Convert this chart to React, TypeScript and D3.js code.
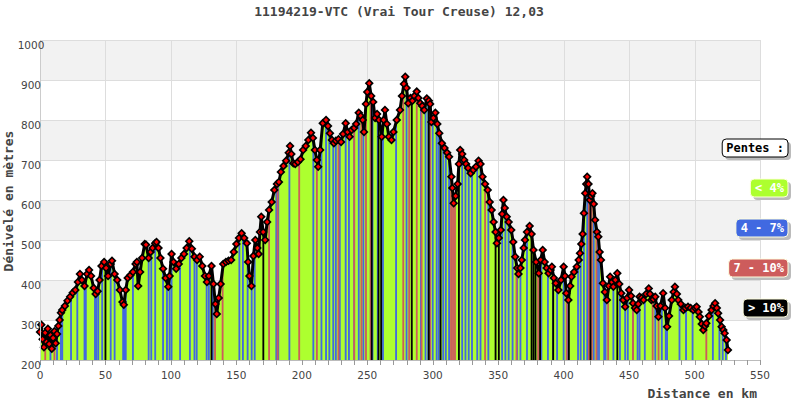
import { useRef, useEffect } from "react"
import * as d3 from "d3"

const WIDTH = 800
const HEIGHT = 400
const MARGIN = { top: 40, right: 40, bottom: 40, left: 40 }

const TITLE = "11194219-VTC (Vrai Tour Creuse) 12,03"
const Y_TITLE = "Dénivelé en mètres"
const X_TITLE = "Distance en km"

// profile (km, metres)
const DIST_KM = [
  0, 1, 2, 3, 4, 5, 6, 7, 8, 9, 10, 11, 12, 13, 14, 15, 16, 17, 19, 21,
  23, 25, 27, 29, 30.5, 32, 34, 36, 37.5, 39, 41, 42.5, 44, 45.5, 47, 49, 50.5, 52, 54, 55,
  57, 59, 61, 63, 64, 65.5, 67, 69, 71, 73, 74, 75, 76.5, 78, 80, 81, 83, 84.5, 86, 88,
  89, 90.5, 92, 94, 96, 98, 99, 100.5, 102, 104, 106, 108, 110, 112, 114, 116, 118, 120, 122, 124,
  126, 127.5, 129, 131, 132.5, 134, 135, 136.5, 138, 140, 142, 144, 146, 148, 150, 152, 154, 156, 158, 159,
  160, 161.5, 163, 164.5, 166, 167, 168, 169, 170.5, 172, 173.5, 175, 177, 179, 181, 182.5, 184, 186, 188, 190,
  191, 192, 193.5, 195, 197, 199, 201, 203, 205, 207, 208.5, 210, 211.5, 212.5, 214, 216, 218.5, 220, 221.5, 223,
  224.5, 226, 228, 230, 231.5, 233.5, 235, 236.5, 238, 240, 241.5, 243.5, 245, 246.5, 247.5, 249, 250, 251.5, 253, 254.5,
  256, 257.5, 259, 261, 262.5, 263.5, 265, 266.5, 268.5, 270, 272.5, 275, 276.5, 278, 279, 280, 281.3, 283, 284.5, 286,
  287.8, 289, 290.5, 292, 293.5, 295.5, 297, 298, 299, 300.5, 302, 303.5, 305, 307, 309, 311, 312.5, 314.3, 315, 316,
  317.5, 319, 320, 321, 322.5, 324, 325.5, 327, 329, 331, 333, 335, 336.5, 338, 340, 342, 343.5, 345, 346.5, 348,
  349, 350.5, 352, 353, 354, 355, 356.5, 358, 360, 361.5, 363, 364.5, 365.5, 367, 368, 369.5, 370.5, 372, 374, 375.5,
  377, 379, 381, 382.5, 384, 385.5, 387, 388.5, 390, 391, 392.5, 394, 396, 398, 400, 401, 402, 403.6, 405, 406,
  408, 410, 411.5, 412.5, 413.5, 414.5, 415.5, 416.5, 417.3, 418, 419, 420, 421, 422, 423, 424, 425.5, 426.5, 427.5, 428.5,
  430, 431.5, 433, 434.5, 435.5, 437, 438, 439.5, 441, 442.5, 444, 445.5, 447, 448.5, 450, 451.5, 453, 454.5, 455.8, 457,
  458, 459.5, 461, 463, 465, 466, 467, 468.5, 470, 471, 472.4, 474, 476, 477.5, 479, 480.5, 482.6, 484, 485, 486.5,
  487.6, 489.5, 491.5, 493, 495, 497, 499, 500.5, 501.6, 503, 504, 505.5, 506.7, 508, 509, 511, 513, 514.5, 515.7, 517,
  518, 519.5, 520.7, 522, 523, 524.5, 525.5,
]

const ELEV_M = [
  270, 288, 252, 232, 268, 245, 278, 240, 262, 228, 255, 272, 242, 265, 285, 300, 318, 325, 335, 348,
  358, 368, 375, 395, 415, 400, 385, 415, 425, 410, 380, 365, 372, 400, 435, 445, 430, 410, 440, 448,
  415, 400, 375, 345, 338, 375, 405, 412, 420, 440, 445, 385, 420, 455, 490, 488, 455, 470, 480, 492,
  495, 480, 455, 428, 405, 383, 410, 465, 445, 428, 440, 455, 465, 480, 497, 478, 458, 450, 458, 435,
  410, 395, 410, 435, 390, 340, 315, 355, 390, 440, 445, 448, 450, 470, 490, 505, 517, 505, 492, 445,
  410, 385, 460, 500, 480, 465, 520, 558, 520, 500, 545, 575, 595, 625, 640, 645, 670, 685, 698, 718,
  735, 715, 692, 690, 695, 702, 725, 735, 750, 768, 755, 725, 700, 683, 725, 792, 800, 785, 767, 750,
  742, 748, 752, 745, 765, 792, 770, 758, 775, 780, 790, 818, 810, 800, 770, 840, 870, 892, 860, 845,
  805, 815, 800, 758, 800, 825, 790, 758, 750, 770, 800, 825, 860, 890, 908, 880, 842, 855, 848, 860,
  871, 855, 842, 835, 825, 854, 848, 840, 795, 805, 818, 790, 767, 742, 730, 718, 708, 658, 630, 592,
  610, 640, 690, 725, 715, 700, 690, 680, 667, 675, 683, 698, 690, 658, 640, 625, 595, 575, 545, 520,
  492, 505, 525, 565, 600, 580, 558, 545, 525, 495, 458, 430, 415, 430, 450, 480, 500, 520, 535, 515,
  475, 445, 417, 450, 475, 445, 430, 417, 425, 433, 405, 392, 375, 400, 433, 410, 367, 350, 385, 408,
  420, 433, 450, 467, 490, 515, 567, 617, 640, 658, 640, 600, 610, 617, 590, 550, 520, 508, 470, 450,
  392, 370, 350, 385, 408, 395, 383, 400, 417, 390, 367, 350, 333, 355, 375, 360, 342, 330, 325, 340,
  358, 355, 350, 365, 379, 365, 350, 352, 358, 335, 308, 335, 367, 330, 283, 310, 350, 370, 383, 365,
  350, 340, 325, 330, 333, 330, 325, 330, 333, 320, 308, 290, 275, 285, 292, 310, 325, 335, 342, 330,
  317, 300, 283, 275, 267, 250, 225,
]

// slope stripes (km where the profile is steeper than 4 %)
const BLUE_KM = [
  0, 8, 13, 16, 17, 23.7, 28.5, 34, 35, 42, 43, 44.5, 47.5, 54, 57, 63.5, 64.5, 65.5, 71, 83,
  85, 88, 94, 97, 99, 100.5, 107, 114.5, 118, 119.7, 127.3, 129, 132, 152.3, 155, 158.6, 161.7, 164, 180.5, 182,
  190.5, 208.8, 215, 218.5, 221, 224, 226, 229, 233.5, 236, 240, 243.5, 247, 254, 258, 262, 272, 280, 291, 294.5,
  296.5, 300, 303, 304.6, 308, 310, 312.5, 322.5, 325, 327.5, 330, 334, 336.5, 342.5, 353, 355.5, 358, 361, 364.5, 367,
  372, 383, 388, 392, 395, 400, 403, 411, 413, 415.5, 418, 423, 425.5, 427, 431, 432, 438, 443, 447, 449,
  453, 456.5, 458, 462, 470, 475, 478, 479, 488.5, 493.5, 498.5, 514, 519, 521.5, 524,
]
const RED_KM = [
  4, 11, 133.7, 139.5, 175, 181.5, 198, 211.5, 228, 240, 245.5, 249, 252.5, 277.5, 282, 287.8, 291.5, 298, 314, 315.5,
  317, 340, 364, 380.5, 402.3, 419.3, 421.5, 425, 434, 453, 468, 472.5, 509,
]
const BLACK_KM = [
  50, 131, 170.6, 253.4, 258.6, 260.6, 284, 297, 306, 320, 348, 350.5, 375.5, 377, 378.5, 382, 392, 404, 420.5, 441,
]

const Y_TICKS = [200, 300, 400, 500, 600, 700, 800, 900, 1000]
const X_TICKS = [0, 50, 100, 150, 200, 250, 300, 350, 400, 450, 500, 550]
const X_MINOR_STEP = 10

const LEGEND_TITLE = "Pentes :"
const LEGEND_LABELS = ["< 4%", "4 - 7%", "7 - 10%", "> 10%"]
const LEGEND_COLORS = ["#ADFF2F", "#4169E1", "#CD5C5C", "#000000"]

const MONO = "'DejaVu Sans Mono', monospace"
const SANS = "'DejaVu Sans', sans-serif"

export default function App() {
  const svgRef = useRef<SVGSVGElement>(null)

  useEffect(() => {
    const svg = svgRef.current
    if (!svg) return
    d3.select(svg).selectAll("*").remove()

    const innerW = WIDTH - MARGIN.left - MARGIN.right
    const innerH = HEIGHT - MARGIN.top - MARGIN.bottom

    const root = d3.select(svg)
      .attr("width", WIDTH)
      .attr("height", HEIGHT)

    const g = root.append("g")
      .attr("transform", `translate(${MARGIN.left},${MARGIN.top})`)

    const x = d3.scaleLinear().domain([0, 550]).range([0, innerW])
    const y = d3.scaleLinear().domain([200, 1000]).range([innerH, 0])

    const points = DIST_KM.map((km, i) => ({ km, e: ELEV_M[i] }))

    // ── Background bands + grid ─────────────────────────────────────────
    const bands = Y_TICKS.slice(0, -1).filter((_, i) => i % 2 === 1)
    g.append("g")
      .selectAll("rect")
      .data(bands)
      .join("rect")
      .attr("x", 0)
      .attr("width", innerW)
      .attr("y", (d) => y(d + 100))
      .attr("height", (d) => y(d) - y(d + 100))
      .attr("fill", "#F2F2F2")

    g.append("g")
      .selectAll("line")
      .data(Y_TICKS)
      .join("line")
      .attr("x1", 0).attr("x2", innerW)
      .attr("y1", (d) => y(d) + 0.5).attr("y2", (d) => y(d) + 0.5)
      .attr("stroke", "#DDDDDD")

    g.append("g")
      .selectAll("line")
      .data(X_TICKS)
      .join("line")
      .attr("x1", (d) => Math.round(x(d)) + 0.5).attr("x2", (d) => Math.round(x(d)) + 0.5)
      .attr("y1", 0).attr("y2", innerH)
      .attr("stroke", "#DDDDDD")

    // ── Profile area + slope stripes ────────────────────────────────────
    const area = d3.area<{ km: number; e: number }>()
      .x((d) => x(d.km))
      .y0(y(200))
      .y1((d) => y(d.e))

    root.append("defs")
      .append("clipPath")
      .attr("id", "profile-clip")
      .append("path")
      .attr("d", area(points) ?? "")

    g.append("path")
      .attr("d", area(points) ?? "")
      .attr("fill", "#ADFF2F")

    const stripes = g.append("g").attr("clip-path", "url(#profile-clip)")
    const addStripes = (kms: number[], color: string) => {
      stripes.append("g")
        .selectAll("rect")
        .data(kms)
        .join("rect")
        .attr("x", (d) => x(d - 0.7))
        .attr("width", (d) => x(d + 0.7) - x(d - 0.7))
        .attr("y", 0)
        .attr("height", innerH)
        .attr("fill", color)
    }
    addStripes(BLUE_KM, LEGEND_COLORS[1])
    addStripes(RED_KM, LEGEND_COLORS[2])
    addStripes(BLACK_KM, LEGEND_COLORS[3])

    // ── Profile outline + markers ───────────────────────────────────────
    const line = d3.line<{ km: number; e: number }>()
      .x((d) => x(d.km))
      .y((d) => y(d.e))
    g.append("path")
      .attr("d", line(points) ?? "")
      .attr("fill", "none")
      .attr("stroke", "#000")
      .attr("stroke-width", 3)
      .attr("stroke-linejoin", "round")

    const diamond = (r: number) => `M0,${-r}L${r},0L0,${r}L${-r},0Z`
    const marks = g.append("g")
      .selectAll("g")
      .data(points)
      .join("g")
      .attr("transform", (d) => `translate(${x(d.km)},${y(d.e)})`)
    marks.append("path").attr("d", diamond(4.5)).attr("fill", "#000")
    marks.append("path").attr("d", diamond(2.2)).attr("fill", "#FF0000")

    // ── Axes ────────────────────────────────────────────────────────────
    g.append("line")
      .attr("x1", 0.5).attr("x2", 0.5)
      .attr("y1", 0).attr("y2", innerH)
      .attr("stroke", "#CCCCCC")
    g.append("line")
      .attr("x1", 0).attr("x2", innerW)
      .attr("y1", innerH + 0.5).attr("y2", innerH + 0.5)
      .attr("stroke", "#BBBBBB")

    g.append("g")
      .selectAll("line")
      .data(d3.range(0, 551, X_MINOR_STEP))
      .join("line")
      .attr("x1", (d) => Math.round(x(d)) + 0.5).attr("x2", (d) => Math.round(x(d)) + 0.5)
      .attr("y1", innerH).attr("y2", innerH + 5)
      .attr("stroke", "#999999")

    g.append("g")
      .selectAll("text")
      .data(X_TICKS)
      .join("text")
      .attr("x", (d) => x(d))
      .attr("y", innerH + 19)
      .attr("text-anchor", "middle")
      .attr("font-family", SANS)
      .attr("font-size", 10.5)
      .attr("fill", "#444")
      .text((d) => d)

    g.append("g")
      .selectAll("text")
      .data(Y_TICKS)
      .join("text")
      .attr("x", -9)
      .attr("y", (d) => y(d) + 8.5)
      .attr("text-anchor", "middle")
      .attr("font-family", SANS)
      .attr("font-size", 10.5)
      .attr("fill", "#444")
      .text((d) => d)

    // ── Titles ──────────────────────────────────────────────────────────
    root.append("text")
      .attr("x", 399).attr("y", 16)
      .attr("text-anchor", "middle")
      .attr("font-family", MONO)
      .attr("font-weight", "bold")
      .attr("font-size", 13)
      .attr("fill", "#444")
      .text(TITLE)

    root.append("text")
      .attr("transform", "translate(13,201) rotate(-90)")
      .attr("text-anchor", "middle")
      .attr("font-family", MONO)
      .attr("font-weight", "bold")
      .attr("font-size", 13)
      .attr("fill", "#444")
      .text(Y_TITLE)

    root.append("text")
      .attr("x", 757).attr("y", 398)
      .attr("text-anchor", "end")
      .attr("font-family", MONO)
      .attr("font-weight", "bold")
      .attr("font-size", 13)
      .attr("fill", "#444")
      .text(X_TITLE)

    // ── Legend ──────────────────────────────────────────────────────────
    const legendRight = 788
    const addBox = (label: string, cy: number, fill: string, stroke: string, textColor: string) => {
      const lg = root.append("g")
      const t = lg.append("text")
        .attr("x", legendRight - 4)
        .attr("y", cy + 4)
        .attr("text-anchor", "end")
        .attr("font-family", MONO)
        .attr("font-weight", "bold")
        .attr("font-size", 12)
        .attr("fill", textColor)
        .text(label)
      const bbox = (t.node() as SVGTextElement | null)?.getBBox()
      const w = bbox ? bbox.width + 8 : 40
      lg.insert("rect", ":first-child")
        .attr("x", legendRight - w).attr("y", cy - 9)
        .attr("width", w).attr("height", 18)
        .attr("rx", 4)
        .attr("fill", fill)
        .attr("stroke", stroke)
      lg.insert("rect", ":first-child")
        .attr("x", legendRight - w + 3).attr("y", cy - 6)
        .attr("width", w).attr("height", 18)
        .attr("rx", 4)
        .attr("fill", "#BBBBBB")
    }
    addBox(LEGEND_TITLE, 148, "#FFFFFF", "#000000", "#000000")
    LEGEND_LABELS.forEach((label, i) => {
      addBox(label, 188 + i * 40, LEGEND_COLORS[i], "#FFFFE0", "#FFFFFF")
    })
  }, [])

  return (
    <svg
      ref={svgRef}
      style={{ position: "absolute", left: 0, top: 0, display: "block", background: "#fff" }}
    />
  )
}
